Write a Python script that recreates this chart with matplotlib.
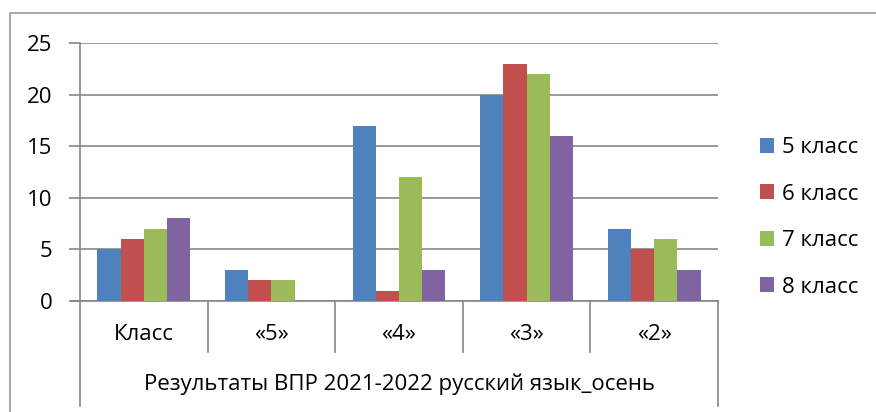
import numpy as np
import matplotlib.pyplot as plt
from matplotlib.patches import Rectangle

plt.rcParams['font.family'] = ['Open Sans', 'DejaVu Sans']

categories = ['Класс', '«5»', '«4»', '«3»', '«2»']
series_names = ['5 класс', '6 класс', '7 класс', '8 класс']
grade5 = [5, 3, 17, 20, 7]
grade6 = [6, 2, 1, 23, 5]
grade7 = [7, 2, 12, 22, 6]
grade8 = [8, 0, 3, 16, 3]
group_title = 'Результаты ВПР 2021-2022 русский язык_осень'

colors = ['#4F81BD', '#C0504D', '#9BBB59', '#8064A2']
grid_c = '#868686'
fs = 16

W, H = 876, 412
fig = plt.figure(figsize=(W / 100, H / 100), dpi=100)

# chart border (only left/top visible in the picture)
fig.patches.append(Rectangle((10 / W, -0.05), 1.1, (H - 13) / H + 0.05,
                             transform=fig.transFigure, fill=False,
                             edgecolor='#9a9a9a', linewidth=1.2))

left, right, top, bottom = 80, 718, 43, 301
ax = fig.add_axes([left / W, (H - bottom) / H, (right - left) / W, (bottom - top) / H])

x = np.arange(len(categories))
n = len(series_names)
bw = 1 / (n + 1.5)
for i, (vals, name) in enumerate(zip([grade5, grade6, grade7, grade8], series_names)):
    ax.bar(x + (i - (n - 1) / 2) * bw, vals, width=bw, color=colors[i],
           label=name, zorder=3)

ax.set_xlim(-0.5, len(categories) - 0.5)
ax.set_ylim(0, 25)
ax.set_yticks(range(0, 26, 5))
ax.yaxis.grid(True, color=grid_c, linewidth=1.2, zorder=0)
ax.tick_params(axis='y', length=8, width=1.2, color=grid_c, labelsize=fs, pad=12,
               direction='out')
ax.tick_params(axis='x', length=0, labelbottom=False)
for s in ['top', 'right']:
    ax.spines[s].set_visible(False)
for s in ['left', 'bottom']:
    ax.spines[s].set_color(grid_c)
    ax.spines[s].set_linewidth(1.2)

ph = bottom - top
trans = ax.get_xaxis_transform()
# category separators
for k in range(1, len(categories)):
    ax.plot([k - 0.5, k - 0.5], [0, -(352 - bottom) / ph], transform=trans,
            color=grid_c, linewidth=1.2, clip_on=False)
for k in [-0.5, len(categories) - 0.5]:
    ax.plot([k, k], [0, -(406 - bottom) / ph], transform=trans,
            color=grid_c, linewidth=1.2, clip_on=False)
# horizontal axis stub to the left
ax.plot([-0.5 - 8 / 127.6, -0.5], [0, 0], transform=trans, color=grid_c,
        linewidth=1.2, clip_on=False)

for k, c in enumerate(categories):
    ax.text(k, -(335 - bottom) / ph, c, transform=trans, ha='center', va='center',
            fontsize=fs)
ax.text((len(categories) - 1) / 2, -(384 - bottom) / ph, group_title,
        transform=trans, ha='center', va='center', fontsize=fs)

ax.legend(loc='upper left', bbox_to_anchor=(740 / W, (H - 117) / H),
          bbox_transform=fig.transFigure, frameon=False, fontsize=fs,
          handlelength=0.65, handleheight=0.65, handletextpad=0.35,
          labelspacing=1.15)

fig.savefig('out.png', dpi=100)
